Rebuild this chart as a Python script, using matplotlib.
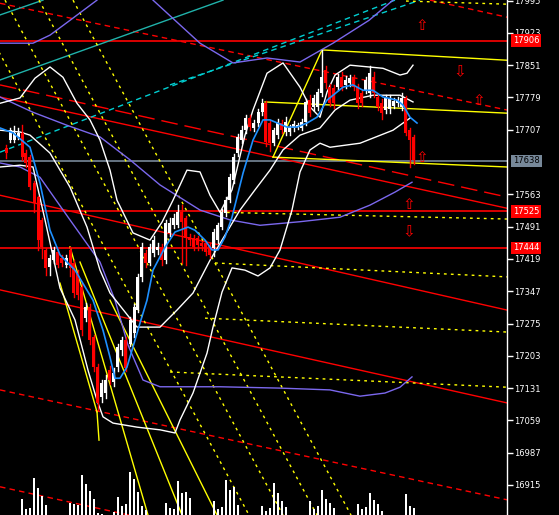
import matplotlib
matplotlib.use("Agg")
import matplotlib.pyplot as plt
import matplotlib.transforms as mtransforms

# ---------------- data ----------------
opens = [17666,17684,17684,17690,17700,17655,17646,17588,17557,17506,17439,17401,17417,17435,17421,17406,17439,17410,17388,17357,
         17287,17312,17245,17178,17112,17120,17172,17145,17178,17216,17238,17230,17254,17305,17379,17432,17410,17432,17439,17446,
         17417,17477,17495,17495,17524,17510,17468,17466,17466,17455,17455,17450,17443,17461,17490,17521,17551,17595,17655,17684,
         17707,17733,17711,17722,17747,17767,17722,17678,17695,17722,17702,17702,17711,17713,17711,17724,17773,17758,17758,17789,
         17840,17802,17800,17802,17825,17807,17811,17822,17802,17789,17796,17789,17825,17780,17767,17751,17753,17760,17767,17758,
         17778,17707,17690]
highs = [17672,17712,17715,17712,17718,17662,17650,17592,17560,17510,17444,17428,17446,17442,17428,17428,17446,17417,17395,17365,
         17320,17318,17250,17185,17150,17160,17180,17175,17230,17245,17245,17290,17318,17385,17455,17440,17452,17470,17455,17452,
         17505,17510,17520,17540,17540,17515,17475,17472,17470,17460,17460,17455,17485,17500,17530,17558,17608,17652,17698,17715,
         17740,17740,17728,17753,17775,17772,17728,17712,17732,17728,17735,17718,17726,17722,17730,17776,17785,17785,17798,17885,
         17850,17810,17806,17832,17835,17826,17830,17828,17810,17795,17825,17850,17835,17786,17775,17785,17785,17778,17780,17790,
         17782,17712,17695]
lows = [17645,17680,17680,17686,17640,17625,17575,17524,17439,17422,17384,17384,17410,17400,17403,17400,17380,17335,17330,17250,
        17280,17230,17170,17082,17100,17110,17140,17135,17170,17205,17170,17225,17245,17300,17370,17400,17405,17425,17430,17405,
        17410,17470,17488,17490,17410,17405,17450,17440,17440,17440,17428,17420,17425,17455,17485,17515,17545,17588,17648,17678,
        17700,17706,17705,17716,17740,17670,17660,17672,17688,17700,17695,17696,17705,17708,17706,17718,17738,17750,17752,17782,
        17800,17760,17755,17795,17795,17800,17805,17795,17755,17760,17790,17780,17780,17750,17730,17745,17745,17755,17760,17750,
        17695,17625,17630]
closes = [17656,17706,17700,17700,17646,17633,17580,17544,17461,17446,17399,17421,17439,17406,17410,17421,17399,17343,17339,17261,
          17312,17238,17178,17098,17143,17149,17149,17165,17223,17238,17176,17283,17312,17379,17446,17410,17446,17461,17446,17417,
          17499,17499,17510,17524,17501,17466,17461,17446,17450,17448,17435,17428,17479,17495,17524,17551,17602,17646,17691,17707,
          17733,17713,17722,17747,17767,17680,17678,17707,17724,17707,17724,17713,17720,17718,17724,17769,17744,17778,17791,17825,
          17811,17767,17767,17825,17802,17818,17822,17802,17767,17767,17818,17834,17789,17758,17744,17778,17778,17771,17773,17778,
          17700,17684,17640]
volume = [0,0,0,0,16,6,7,37,27,19,10,0,0,0,0,0,12,11,10,40,31,24,16,2,1,0,0,3,18,9,11,43,36,23,9,5,0,0,0,0,
          12,7,6,34,22,23,17,0,0,0,0,0,14,6,8,35,25,28,10,0,0,0,0,0,9,4,7,32,22,14,8,0,0,0,0,0,14,6,9,25,
          16,12,7,0,0,0,0,0,11,6,8,22,15,11,4,0,0,0,0,0,21,9,7]

price_ticks = [16915,16987,17059,17131,17203,17275,17347,17419,17491,17563,17707,17779,17851,17923,17995]
level_red = [17906, 17525, 17444]
level_last = 17638

# indicator curves (bar position, price)
blue_bars = [-1.5,1.75,6,8.5,11,13.5,17.25,21.75,24.25,26,27.25,28.5,30.25,31.75,33.5,35.25,36.75,39.75,42.25,45.5,47.25,49.75,51.5,53,54.75,56.5,59.25,61.75,64.25,66,70.25,72.75,75.25,77.75,80.25,84.25,86.75,89.25,91.75,94.25,97.75,99.25,101,102.75]
blue_vals = [17711,17700,17668,17588,17483,17428,17394,17327,17260,17200,17153,17153,17178,17223,17276,17327,17394,17445,17479,17490,17483,17461,17439,17439,17468,17512,17610,17684,17729,17729,17713,17713,17722,17735,17773,17802,17807,17795,17795,17780,17773,17762,17735,17722]

pu_bars = [-1.5,6.75,11,16,22.75,29.75,36.75,42.25,48.5,56.75,65.25,73.5,81.75,90.75,96.75]
pu_vals = [17900,17900,17918,17951,17996,18085,17996,17951,17900,17856,17867,17858,17900,17951,17996]
pm_bars = [-1.5,6.75,15.25,23.5,31,38.5,48.5,56,63.5,73.5,83.5,91,97.25,101.5]
pm_vals = [17780,17746,17717,17691,17640,17584,17528,17506,17494,17502,17512,17539,17568,17590]
pl_bars = [-1.5,3.5,8.5,16,23.5,27.25,30.5,34.25,38.5,53.5,68.5,81,88.5,94.75,98.5,101.5]
pl_vals = [17633,17624,17601,17506,17412,17327,17227,17149,17134,17134,17131,17127,17113,17120,17133,17156]

wu_bars = [-1.5,3.5,7.25,11,14.25,17.75,21,23.5,26,27.75,31.75,36,39,41.75,45.25,48.5,51,53.5,56.5,59.75,61.75,65.25,69.25,73.5,76,78.5,80.25,82.25,86,94.25,98.5,100.25,101.75]
wu_vals = [17766,17778,17822,17847,17824,17766,17729,17684,17617,17550,17477,17461,17501,17550,17617,17613,17561,17523,17573,17695,17751,17833,17856,17802,17758,17735,17791,17829,17851,17844,17829,17833,17851]
wm_bars = [-1.5,3.5,6,11,16,20.25,23.5,26,32.75,38.5,42.75,46.75,51,54.75,58.5,62.25,66,69.25,73.5,78.5,82.25,86,91.75,98.5,101.75]
wm_vals = [17706,17702,17695,17655,17579,17490,17394,17343,17267,17267,17305,17343,17416,17472,17528,17573,17617,17662,17695,17711,17751,17773,17784,17784,17769]
wl_bars = [-1.5,3.5,6.75,9.75,13.5,17.25,20.5,22.75,24.25,26.75,32.75,38.5,42.25,43.5,46.75,50.25,51.75,54,56.5,59.75,63,66,68.5,71.5,73.5,76,78.5,81,88.5,96.75,101]
wl_vals = [17624,17628,17624,17506,17354,17283,17171,17104,17067,17053,17044,17038,17031,17060,17120,17209,17267,17345,17399,17394,17381,17399,17439,17528,17613,17662,17677,17668,17677,17706,17733]

# straight objects: (bar0, price0, bar1, price1)
red_solid = [(-1.5,17780,125.25,17532),(-1.5,17561,125.25,17305),(-1.5,17350,125.25,17098)]
red_longdash = [(-1.5,17807,125.25,17557)]
red_dash = [(-1.5,17989,125.25,17751),(-1.5,17127,125.25,16882),
            (-1.5,16911,125.25,16663),(106,17996,125.25,17958)]
yellow_solid = [(79,17885,125.25,17862),(64.75,17769,125.25,17744),(66.75,17646,125.25,17624),
                (66.75,17646,79,17885),(16,17446,35.5,16848),(13.5,17365,22.75,17078),
                (22.75,17078,23.25,17015),(18.5,17412,44,16848),(26,17327,52.75,16848)]
yellow_dash = [(-8.75,17996,60.75,16848),(-0.25,17996,69.25,16848),(8.25,17996,77.75,16848),
               (16.75,17996,86.25,16848),(53.5,17523,125.25,17508),(52.25,17410,125.25,17379),
               (49.75,17287,125.25,17256),(41,17167,125.25,17133),(100,17994,125.25,17987)]
teal_solid = [(-1.5,17818,54.25,17996),(-1.5,17963,9.25,17996)]
cyan_dash = [(-1.5,17657,97.25,17996),(41,17807,103.5,17996)]

arrows_up = [(104,17940),(118.25,17773),(104,17646),(100.75,17541)]
arrows_dn = [(113.5,17836),(100.75,17479)]

# ---------------- drawing ----------------
W, H = 559, 515
fig = plt.figure(figsize=(W/100, H/100), dpi=100, facecolor="black")
ax = fig.add_axes([0, 0, 507/W, 1])
ax.set_facecolor("black")
ax.set_xlim(-1.5, 125.25)
ax.set_ylim(16848.1, 17996.3)

for s in ["top", "left", "bottom"]:
    ax.spines[s].set_visible(False)
ax.spines["right"].set_color("white")
ax.spines["right"].set_linewidth(1)
ax.set_xticks([])
ax.yaxis.tick_right()
ax.set_yticks(price_ticks)
ax.set_yticklabels([str(t) for t in price_ticks])
ax.tick_params(axis="y", colors="white", length=4, width=1, pad=1, labelsize=6)

# volume
vax = fig.add_axes([0, 0, 507/W, 1])
vax.set_xlim(-1.5, 125.25)
vax.set_ylim(0, 515)
vax.axis("off")
vax.patch.set_alpha(0)
vax.bar(range(len(volume)), volume, width=0.28, color="white", bottom=0)

def seg(lst, **kw):
    for b0, p0, b1, p1 in lst:
        ax.plot([b0, b1], [p0, p1], **kw)

for lv in level_red:
    ax.axhline(lv, color="#ff0000", lw=1.2, zorder=2)
ax.axhline(level_last, color="#778899", lw=1.2, zorder=2)

seg(red_solid, color="#ff0000", lw=1.0, zorder=2)
seg(red_longdash, color="#ff0000", lw=1.0, ls=(0, (12, 5)), zorder=2)
seg(red_dash, color="#ff0000", lw=1.0, ls=(0, (4, 3)), zorder=2)
seg(teal_solid, color="#20b2aa", lw=1.0, zorder=2)
seg(cyan_dash, color="#00ced1", lw=1.0, ls=(0, (4, 3)), zorder=2)
seg(yellow_dash, color="#ffff00", lw=1.0, ls=(0, (2, 3)), zorder=2)
seg(yellow_solid, color="#ffff00", lw=1.0, zorder=2)

ax.plot(pu_bars, pu_vals, color="#7b68ee", lw=1.0, zorder=3)
ax.plot(pm_bars, pm_vals, color="#7b68ee", lw=1.0, zorder=3)
ax.plot(pl_bars, pl_vals, color="#7b68ee", lw=1.0, zorder=3)
ax.plot(wu_bars, wu_vals, color="white", lw=1.0, zorder=3)
ax.plot(wm_bars, wm_vals, color="white", lw=1.0, zorder=3)
ax.plot(wl_bars, wl_vals, color="white", lw=1.0, zorder=3)

# candles
for i, (o, h, l, c) in enumerate(zip(opens, highs, lows, closes)):
    col = "white" if c >= o else "#ff0000"
    ax.plot([i, i], [l, h], color=col, lw=1.0, zorder=4)
    ax.bar(i, max(abs(c - o), 2.5), bottom=min(o, c), width=0.75, color=col, zorder=5, linewidth=0)

ax.plot(blue_bars, blue_vals, color="#1e90ff", lw=1.2, zorder=6)

for b, p in arrows_up:
    ax.text(b, p, "\u21e7", color="#ff0000", fontsize=11, ha="center", va="center", zorder=7)
for b, p in arrows_dn:
    ax.text(b, p, "\u21e9", color="#ff0000", fontsize=11, ha="center", va="center", zorder=7)

trans = mtransforms.blended_transform_factory(ax.transAxes, ax.transData)
for lv in level_red:
    ax.text(1.012, lv, str(lv), transform=trans, color="white", fontsize=6, va="center", ha="left",
            bbox=dict(facecolor="#ff0000", edgecolor="none", pad=1.2), zorder=8, clip_on=False)
ax.text(1.012, level_last, str(level_last), transform=trans, color="black", fontsize=6, va="center", ha="left",
        bbox=dict(facecolor="#778899", edgecolor="none", pad=1.2), zorder=8, clip_on=False)

fig.savefig("out.png", dpi=100, facecolor="black")
